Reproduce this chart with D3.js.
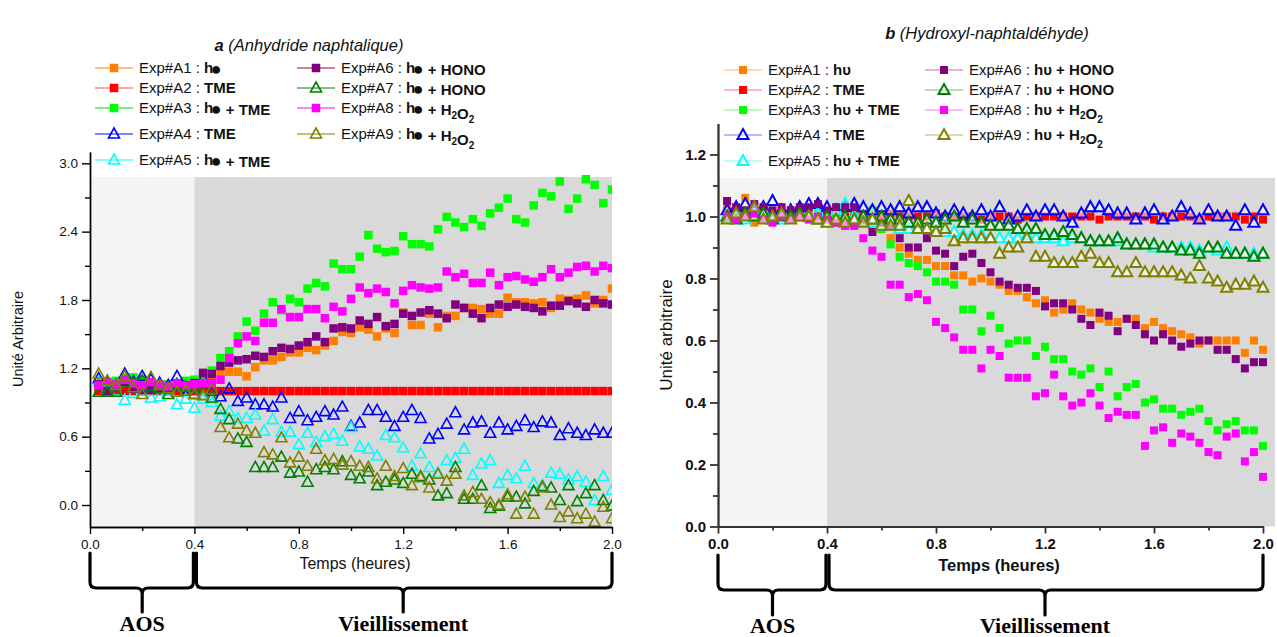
<!DOCTYPE html>
<html>
<head>
<meta charset="utf-8">
<script src="https://cdn.jsdelivr.net/npm/d3@7"></script>
<style>
body { margin: 0; background: #fff; }
svg { font-family: "Liberation Sans", Arial, sans-serif; }
</style>
</head>
<body>
<div id="chart"></div>
<script>
// sampling times (minutes), one point every 2 min
var minutes = [2,4,6,8,10,12,14,16,18,20,22,24,26,28,30,32,34,36,38,40,
    42,44,46,48,50,52,54,56,58,60,62,64,66,68,70,72,74,76,78,80,
    82,84,86,88,90,92,94,96,98,100,102,104,106,108,110,112,114,116,118,120];

var expNames = ["Exp#A1","Exp#A2","Exp#A3","Exp#A4","Exp#A5","Exp#A6","Exp#A7","Exp#A8","Exp#A9"];
var conditions = ["hν","TME","hν + TME","TME","hν + TME","hν + HONO","hν + HONO","hν + H2O2","hν + H2O2"];

// --- panel a : anhydride naphtalique
var a1 = [1.02,1.00,1.03,1.01,1.04,1.00,1.02,1.05,1.01,1.03,1.00,1.02,
    1.05,1.10,1.17,1.17,1.17,1.13,1.21,1.27,1.27,1.30,1.34,1.34,1.38,1.36,1.40,
    1.44,1.52,1.51,1.56,1.54,1.48,1.55,1.51,1.69,1.58,1.58,1.68,1.56,1.66,1.66,
    1.73,1.73,1.72,1.68,1.68,1.82,1.78,1.78,1.77,1.78,1.73,1.81,1.80,1.81,1.84,1.77,1.80,1.90];
var a2 = [1.00,1.00,1.00,1.00,1.00,1.00,1.00,1.00,1.00,1.00,1.00,1.00,
    1.00,1.00,1.00,1.00,1.00,1.00,1.00,1.00,1.00,1.00,1.00,1.00,
    1.00,1.00,1.00,1.00,1.00,1.00,1.00,1.00,1.00,1.00,1.00,1.00,
    1.00,1.00,1.00,1.00,1.00,1.00,1.00,1.00,1.00,1.00,1.00,1.00,
    1.00,1.00,1.00,1.00,1.00,1.00,1.00,1.00,1.00,1.00,1.00,1.00];
var a3 = [1.08,1.07,1.09,1.12,1.12,1.10,1.07,1.05,1.06,1.04,1.09,1.10,1.12,1.18,
    1.29,1.35,1.48,1.61,1.53,1.68,1.78,1.71,1.81,1.78,1.90,1.95,1.92,2.12,2.07,2.07,
    2.18,2.37,2.25,2.22,2.23,2.36,2.29,2.29,2.27,2.42,2.53,2.48,2.44,2.51,2.45,2.56,
    2.61,2.69,2.51,2.48,2.63,2.74,2.71,2.84,2.60,2.69,2.86,2.81,2.65,2.77];
var a4 = [1.11,1.08,1.05,1.15,1.08,1.13,1.10,1.07,1.05,1.13,1.02,0.97,
    1.11,1.00,0.95,1.02,0.91,0.94,0.88,0.88,0.86,0.94,0.76,0.82,
    0.74,0.77,0.82,0.79,0.86,0.69,0.72,0.83,0.83,0.77,0.69,0.77,
    0.83,0.76,0.58,0.62,0.71,0.81,0.66,0.72,0.73,0.63,0.72,0.66,
    0.69,0.74,0.68,0.73,0.72,0.61,0.67,0.63,0.61,0.66,0.63,0.63];
var a5 = [1.08,1.02,1.00,0.92,0.98,1.00,0.94,0.95,1.00,0.88,0.93,0.85,
    0.93,0.90,0.78,0.82,0.76,0.76,0.79,0.65,0.75,0.64,0.64,0.53,
    0.63,0.55,0.60,0.62,0.56,0.68,0.51,0.49,0.43,0.61,0.59,0.50,
    0.34,0.45,0.33,0.28,0.39,0.41,0.49,0.26,0.36,0.39,0.19,0.26,
    0.23,0.34,0.19,0.17,0.28,0.27,0.22,0.25,0.20,0.04,0.25,0.13];
var a6 = [1.06,1.00,1.04,1.08,1.02,1.01,1.01,1.03,1.02,1.04,1.05,1.07,
    1.16,1.15,1.22,1.25,1.27,1.28,1.31,1.30,1.35,1.38,1.37,1.40,
    1.43,1.48,1.43,1.55,1.56,1.55,1.62,1.59,1.65,1.57,1.59,1.68,
    1.66,1.69,1.71,1.68,1.64,1.76,1.73,1.68,1.64,1.73,1.76,1.74,
    1.76,1.74,1.73,1.70,1.75,1.75,1.79,1.77,1.74,1.80,1.77,1.76];
var a7 = [0.99,0.99,0.99,1.07,1.07,1.09,1.04,1.02,0.97,1.06,1.04,1.02,
    1.05,0.94,0.84,0.75,0.58,0.55,0.33,0.33,0.33,0.42,0.28,0.29,
    0.20,0.31,0.33,0.31,0.38,0.26,0.23,0.29,0.17,0.20,0.22,0.19,
    0.27,0.25,0.22,0.08,0.10,0.33,0.05,0.05,0.17,-0.03,-0.01,0.07,
    0.07,0.01,0.12,0.16,0.15,0.04,0.17,0.03,0.10,0.17,0.04,-0.01];
var a8 = [1.05,1.08,1.06,1.10,1.07,1.05,1.08,1.06,1.04,1.07,1.05,1.06,
    1.07,1.07,1.10,1.29,1.42,1.48,1.44,1.60,1.60,1.72,1.65,1.65,
    1.72,1.72,1.64,1.74,1.70,1.81,1.91,1.86,1.90,1.87,1.77,1.88,
    1.93,1.91,1.90,1.91,2.05,2.00,2.03,1.95,1.95,2.04,1.93,2.00,
    2.01,1.98,1.96,2.00,2.07,2.00,2.04,2.09,2.10,2.05,2.10,2.08];
var a9 = [1.15,1.09,1.05,1.13,1.03,0.97,1.12,1.05,1.02,0.99,1.00,0.97,
    0.96,1.01,0.68,0.59,0.71,0.65,0.63,0.46,0.44,0.59,0.37,0.42,
    0.34,0.49,0.39,0.40,0.35,0.38,0.34,0.33,0.23,0.34,0.25,0.32,
    0.17,0.24,0.15,0.27,0.21,0.27,0.08,0.11,0.05,0.02,0.00,0.09,
    -0.08,0.07,-0.08,0.15,0.00,-0.11,-0.06,-0.12,-0.08,-0.15,-0.02,-0.12];

// --- panel b : hydroxyl-naphtaldehyde
var b1 = [1.03,1.00,1.06,0.98,1.01,0.99,1.00,0.99,1.00,1.01,0.99,1.00,
    0.98,0.97,0.97,0.98,0.97,0.96,0.93,0.90,0.88,0.86,0.86,0.84,
    0.84,0.81,0.81,0.79,0.80,0.79,0.78,0.76,0.76,0.74,0.72,0.73,
    0.69,0.70,0.72,0.70,0.69,0.67,0.66,0.66,0.67,0.67,0.64,0.66,
    0.64,0.63,0.62,0.61,0.59,0.60,0.60,0.60,0.60,0.56,0.60,0.57];
var b2 = [1.01,1.00,1.01,1.00,1.00,1.01,1.00,1.00,1.01,1.00,1.00,1.01,
    1.00,1.00,1.00,1.01,1.00,1.00,1.01,1.00,1.00,1.00,1.00,1.01,
    1.00,1.00,1.00,1.00,0.99,1.00,1.00,1.00,0.99,1.00,1.00,1.00,
    1.00,1.00,1.00,1.00,1.00,0.99,1.00,1.00,1.00,1.00,1.00,0.99,
    1.00,1.00,1.00,1.00,0.99,1.00,1.00,1.00,1.00,0.99,1.00,0.99];
var b3 = [0.99,1.00,1.00,1.01,1.00,0.99,1.00,1.01,1.00,1.00,1.01,1.00,
    1.00,0.99,1.02,0.99,1.02,0.96,0.91,0.87,0.85,0.84,0.82,0.79,
    0.79,0.78,0.70,0.70,0.63,0.68,0.64,0.59,0.60,0.60,0.55,0.58,
    0.54,0.54,0.50,0.49,0.51,0.45,0.50,0.42,0.45,0.46,0.40,0.41,
    0.38,0.38,0.36,0.37,0.38,0.34,0.31,0.33,0.34,0.31,0.31,0.26];
var b4 = [1.02,1.03,1.04,1.02,1.03,1.05,1.02,1.02,1.03,1.04,1.04,1.03,
    1.02,1.03,1.04,1.03,1.02,1.03,1.02,1.03,1.01,1.03,1.03,1.01,
    1.00,1.02,1.01,1.00,1.02,1.00,1.03,0.99,1.00,1.02,1.00,1.02,
    1.02,1.00,0.98,1.01,1.03,1.03,1.02,1.01,1.01,0.99,1.01,1.02,
    0.99,1.00,1.03,1.01,0.99,1.02,1.00,1.00,0.97,1.02,0.98,1.02];
var b5 = [1.00,1.01,0.99,1.00,1.02,1.00,0.99,1.01,1.00,1.00,1.01,1.00,
    1.02,1.04,1.00,0.99,0.98,0.97,0.97,0.96,0.96,0.96,0.96,0.95,
    0.95,0.95,0.94,0.94,0.94,0.93,0.93,0.93,0.93,0.94,0.93,0.93,
    0.93,0.92,0.93,0.93,0.92,0.92,0.92,0.92,0.91,0.91,0.91,0.90,
    0.90,0.90,0.90,0.90,0.89,0.90,0.89,0.90,0.88,0.88,0.88,0.88];
var b6 = [1.05,1.03,1.02,1.04,1.03,1.02,1.03,1.02,1.03,1.03,1.04,1.02,
    1.03,1.03,1.03,0.99,0.95,0.98,0.97,0.93,0.90,0.90,0.93,0.89,
    0.88,0.84,0.87,0.88,0.85,0.82,0.79,0.78,0.77,0.77,0.76,0.71,
    0.72,0.72,0.70,0.67,0.65,0.69,0.68,0.63,0.67,0.65,0.62,0.60,
    0.62,0.60,0.58,0.59,0.60,0.60,0.57,0.57,0.54,0.51,0.53,0.53];
var b7 = [1.00,0.99,1.01,1.00,1.01,0.99,1.00,1.00,1.01,1.00,0.99,1.00,
    0.99,1.00,0.99,1.00,0.99,1.00,0.99,0.99,0.98,0.98,0.99,0.98,
    0.99,1.00,0.98,0.99,0.98,0.97,0.97,0.97,0.96,0.96,0.96,0.94,
    0.94,0.95,0.94,0.93,0.92,0.92,0.92,0.93,0.91,0.91,0.91,0.91,
    0.90,0.90,0.89,0.89,0.88,0.90,0.90,0.88,0.88,0.88,0.87,0.88];
var b8 = [1.00,0.99,1.00,1.01,0.99,0.98,1.00,0.99,1.00,0.99,1.00,0.99,
    0.98,0.97,0.97,0.93,0.89,0.87,0.78,0.78,0.74,0.75,0.73,0.66,
    0.64,0.61,0.57,0.57,0.51,0.57,0.55,0.48,0.48,0.48,0.42,0.43,
    0.49,0.42,0.39,0.40,0.43,0.39,0.35,0.37,0.36,0.36,0.26,0.31,
    0.32,0.27,0.30,0.29,0.27,0.24,0.23,0.29,0.30,0.21,0.24,0.16];
var b9 = [0.99,1.01,1.00,1.03,0.99,1.00,1.01,0.99,1.00,1.00,0.99,0.98,
    0.99,0.98,0.99,0.98,0.99,0.97,0.97,0.97,1.05,0.96,0.96,0.95,
    0.96,0.92,0.93,0.93,0.93,0.93,0.88,0.90,0.90,0.93,0.87,0.87,
    0.85,0.85,0.85,0.87,0.88,0.85,0.85,0.82,0.82,0.85,0.82,0.82,
    0.82,0.82,0.81,0.80,0.84,0.80,0.79,0.77,0.78,0.78,0.79,0.77];

var colors = ["#ff8000","#ff0000","#00ff00","#0000ff","#00ffff","#800080","#008000","#ff00ff","#808000"];
var legendLineA = ["#ff8000","#ff5050","#00e000","#0000ff","#00ffff","#a01010","#008000","#ff00ff","#808000"];
var shapes = ["square","square","square","triangle","triangle","square","triangle","square","triangle"];

var svg = d3.select("#chart").append("svg")
    .attr("width", 1277)
    .attr("height", 637);

function triPath(s) {
    return "M0," + (-s * 0.6) + "L" + (s * 0.55) + "," + (s * 0.4) + "L" + (-s * 0.55) + "," + (s * 0.4) + "Z";
}

function drawMarker(g, k, cx, cy, p) {
    if (shapes[k] == "square") {
        g.append("rect")
            .attr("x", cx - p.sq / 2).attr("y", cy - p.sq / 2)
            .attr("width", p.sq).attr("height", p.sq)
            .attr("fill", colors[k]);
    } else {
        g.append("path")
            .attr("d", triPath(p.tri))
            .attr("transform", "translate(" + cx + "," + cy + ")")
            .attr("fill", p.triFill)
            .attr("stroke", colors[k])
            .attr("stroke-width", p.triStroke);
    }
}

// legend text : "Exp#A1 : " + bold condition, nu drawn as p.nu, H2O2 with subscripts
function legendText(g, k, tx, ty, p) {
    var t = g.append("text").attr("x", tx).attr("y", ty)
        .attr("font-size", p.legFont).attr("fill", "#111");
    t.append("tspan").attr("font-weight", p.prefixWeight).text(expNames[k] + " : ");
    var cond = conditions[k];
    var parts = cond.split(/(ν|2)/);
    parts.forEach(function (s) {
        if (s == "") return;
        if (s == "ν") {
            if (p.nuDot) {
                t.append("tspan").attr("font-weight", "bold").attr("dx", -2.5)
                    .attr("font-size", p.legFont + 3).attr("dy", 1.5).text("●");
                t.append("tspan").attr("dy", -1.5).text("");
            } else {
                t.append("tspan").attr("font-weight", "bold").text("υ");
            }
        } else if (s == "2") {
            t.append("tspan").attr("font-weight", "bold").attr("font-size", p.legFont - 5)
                .attr("dy", 4).text("2");
            t.append("tspan").attr("dy", -4).text("");
        } else {
            t.append("tspan").attr("font-weight", "bold").text(s);
        }
    });
}

function brace(g, x0, x1, xm, yTop, yH, yTip) {
    var r = 6;
    var d = "M" + x0 + "," + yTop + "L" + x0 + "," + (yH - r) +
        "Q" + x0 + "," + yH + " " + (x0 + r) + "," + yH +
        "L" + (xm - r) + "," + yH + "Q" + xm + "," + yH + " " + xm + "," + (yH + r) +
        "L" + xm + "," + yTip +
        "M" + xm + "," + (yH + r) + "Q" + xm + "," + yH + " " + (xm + r) + "," + yH +
        "L" + (x1 - r) + "," + yH + "Q" + x1 + "," + yH + " " + x1 + "," + (yH - r) +
        "L" + x1 + "," + yTop;
    g.append("path").attr("d", d).attr("fill", "none")
        .attr("stroke", "#000").attr("stroke-width", 3.2)
        .attr("stroke-linecap", "round").attr("stroke-linejoin", "round");
}

function drawPanel(p) {
    var g = svg.append("g");
    var x = d3.scaleLinear().domain([0, 120]).range(p.xRange);
    var y = d3.scaleLinear().domain(p.yDomain).range(p.yRange);
    var yBottom = y(p.yDomain[0]);

    // shaded periods
    g.append("rect")
        .attr("x", x(0)).attr("y", p.bgTop)
        .attr("width", x(24) - x(0)).attr("height", yBottom - p.bgTop)
        .attr("fill", "#f4f4f4");
    g.append("rect")
        .attr("x", x(24)).attr("y", p.bgTop)
        .attr("width", p.bgRight - x(24)).attr("height", yBottom - p.bgTop)
        .attr("fill", "#d9d9d9");

    g.append("clipPath").attr("id", p.id + "-clip")
        .append("rect")
        .attr("x", x(0)).attr("y", p.yRange[1] - 10)
        .attr("width", p.bgRight - x(0)).attr("height", yBottom - p.yRange[1] + 10);

    var pts = g.append("g").attr("clip-path", "url(#" + p.id + "-clip)");
    p.series.forEach(function (vals, k) {
        var sg = pts.append("g");
        vals.forEach(function (v, i) {
            drawMarker(sg, k, x(minutes[i]), y(v), p);
        });
    });

    // axes
    var xAxis = d3.axisBottom(x)
        .tickValues([0, 24, 48, 72, 96, 120])
        .tickFormat(function (d) { return d3.format(".1f")(d / 60); })
        .tickSize(7).tickSizeOuter(0).tickPadding(5);
    var xMinor = d3.axisBottom(x)
        .tickValues([12, 36, 60, 84, 108])
        .tickFormat("").tickSize(4).tickSizeOuter(0);
    var yAxis = d3.axisLeft(y)
        .tickValues(p.yTicks)
        .tickFormat(d3.format(".1f"))
        .tickSize(8).tickSizeOuter(0).tickPadding(4);
    var yMinor = d3.axisLeft(y)
        .tickValues(p.yMinor)
        .tickFormat("").tickSize(5).tickSizeOuter(0);

    [xMinor, xAxis].forEach(function (ax) {
        g.append("g").attr("transform", "translate(0," + yBottom + ")").call(ax);
    });
    [yMinor, yAxis].forEach(function (ax) {
        g.append("g").attr("transform", "translate(" + x(0) + ",0)").call(ax);
    });
    g.selectAll(".domain, .tick line")
        .attr("stroke", p.axisColor).attr("stroke-width", p.axisWidth);
    g.selectAll(".tick text")
        .attr("font-family", "Liberation Sans, Arial, sans-serif")
        .attr("font-size", p.tickFont)
        .attr("font-weight", p.tickWeight)
        .attr("fill", "#111");

    // axis titles
    g.append("text")
        .attr("x", p.xLabelPos[0]).attr("y", p.xLabelPos[1])
        .attr("text-anchor", "middle")
        .attr("font-size", p.xLabelFont).attr("font-weight", p.tickWeight)
        .attr("fill", "#111")
        .text("Temps (heures)");
    g.append("text")
        .attr("transform", "translate(" + p.yLabelPos[0] + "," + p.yLabelPos[1] + ") rotate(-90)")
        .attr("text-anchor", "middle")
        .attr("font-size", p.yLabelFont)
        .attr("fill", "#111")
        .text(p.yLabel);

    // title
    var t = g.append("text")
        .attr("x", p.titlePos[0]).attr("y", p.titlePos[1])
        .attr("text-anchor", "middle")
        .attr("font-size", 16.5).attr("font-style", "italic").attr("fill", "#111");
    t.append("tspan").attr("font-weight", "bold").text(p.titleLetter);
    t.append("tspan").text(" " + p.titleText);

    // legend
    p.legend.forEach(function (pos, k) {
        var lg = g.append("g");
        lg.append("line")
            .attr("x1", pos[0] - 19).attr("x2", pos[0] + 19)
            .attr("y1", pos[1]).attr("y2", pos[1])
            .attr("stroke", p.legLine[k]).attr("stroke-width", 1.2)
            .attr("stroke-opacity", p.legLineOpacity);
        drawMarker(lg, k, pos[0], pos[1], p);
        legendText(lg, k, pos[0] + 25, pos[1] + 5, p);
    });

    // periods
    brace(g, x(0), x(24) - 1, x(12), p.brace[0], p.brace[1], p.brace[2]);
    brace(g, x(24) + 2, x(120), x(72), p.brace[0], p.brace[1], p.brace[2]);
    [["AOS", 12], ["Vieillissement", 72]].forEach(function (d) {
        g.append("text")
            .attr("x", x(d[1])).attr("y", p.brace[3])
            .attr("text-anchor", "middle")
            .attr("font-family", "Liberation Serif, Times New Roman, serif")
            .attr("font-weight", "bold").attr("font-size", 22)
            .attr("fill", "#000")
            .text(d[0]);
    });
}

drawPanel({
    id: "pa",
    xRange: [90, 612],
    yDomain: [-0.193, 3.1],
    yRange: [527, 151.9],
    yTicks: [0, 0.6, 1.2, 1.8, 2.4, 3.0],
    yMinor: [0.3, 0.9, 1.5, 2.1, 2.7],
    bgTop: 177, bgRight: 612,
    series: [a1, a2, a3, a4, a5, a6, a7, a8, a9],
    sq: 8.5, tri: 10, triFill: "none", triStroke: 1.6,
    axisColor: "#000", axisWidth: 1.4,
    tickFont: 13.5, tickWeight: "normal",
    xLabelPos: [355, 569], xLabelFont: 16,
    yLabel: "Unité Arbitraire", yLabelPos: [23, 339], yLabelFont: 14.5,
    titleLetter: "a", titleText: "(Anhydride naphtalique)", titlePos: [309, 51],
    legend: [[114, 68], [114, 88], [114, 108], [114, 134], [114, 160],
             [316, 68], [316, 88], [316, 108], [316, 134]],
    legLine: legendLineA, legLineOpacity: 1,
    legFont: 15, prefixWeight: "normal", nuDot: true,
    brace: [553, 588, 612, 631]
});

drawPanel({
    id: "pb",
    xRange: [718, 1263],
    yDomain: [0, 1.3],
    yRange: [526.5, 123.5],
    yTicks: [0, 0.2, 0.4, 0.6, 0.8, 1.0, 1.2],
    yMinor: [0.1, 0.3, 0.5, 0.7, 0.9, 1.1],
    bgTop: 178, bgRight: 1275,
    series: [b1, b2, b3, b4, b5, b6, b7, b8, b9],
    sq: 8, tri: 10, triFill: "rgba(255,255,255,0.55)", triStroke: 2,
    axisColor: "#333", axisWidth: 1.8,
    tickFont: 15, tickWeight: "bold",
    xLabelPos: [999, 571], xLabelFont: 16.5,
    yLabel: "Unité arbitraire", yLabelPos: [672, 335], yLabelFont: 17,
    titleLetter: "b", titleText: "(Hydroxyl-naphtaldéhyde)", titlePos: [987, 39],
    legend: [[743, 70], [743, 90], [743, 110], [743, 135], [743, 161],
             [944, 70], [944, 90], [944, 110], [944, 135]],
    legLine: colors, legLineOpacity: 0.55,
    legFont: 15, prefixWeight: "normal", nuDot: false,
    brace: [555, 590, 615, 633]
});
</script>
</body>
</html>
